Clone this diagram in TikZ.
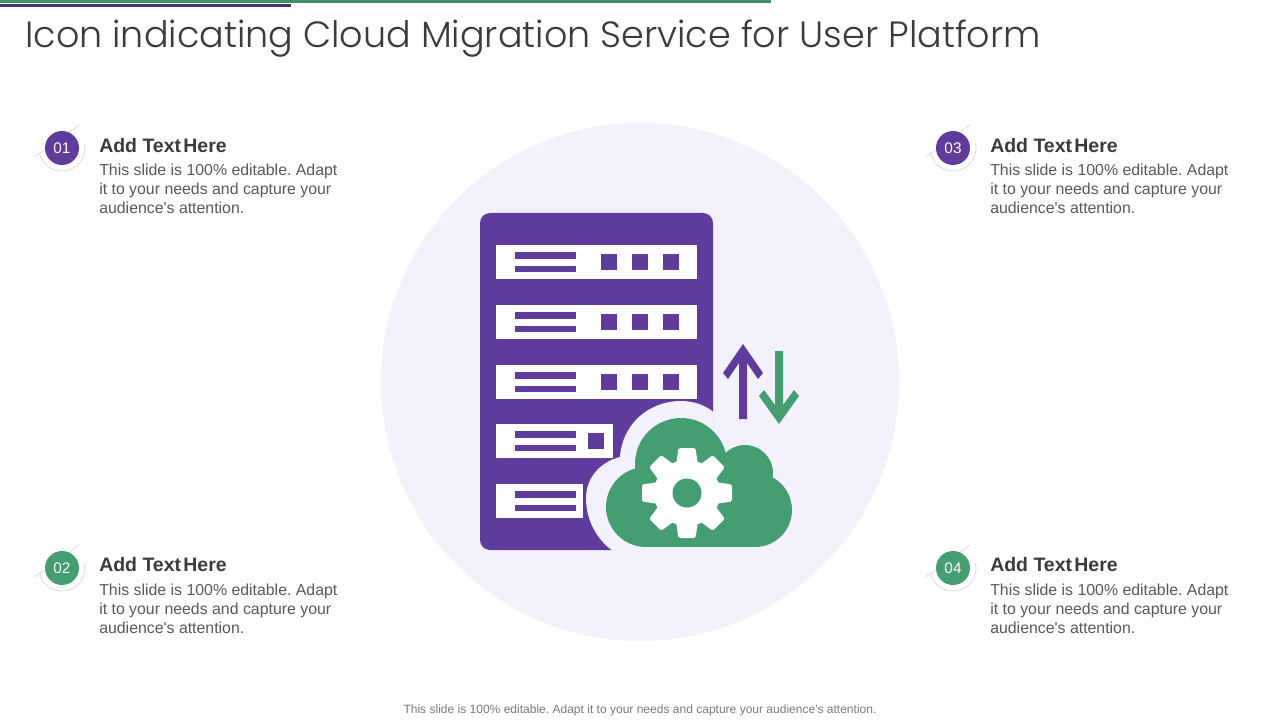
\documentclass[tikz,border=0pt]{standalone}
\usepackage{fontspec}
\setmainfont{Liberation Sans}
\newfontfamily\titlefont{Poppins Light}
\definecolor{pur}{HTML}{5F3C9C}
\definecolor{grn}{HTML}{459D72}
\definecolor{halo}{HTML}{F3F2FA}
\definecolor{ringc}{HTML}{E4E4E4}
\definecolor{headc}{HTML}{3B3B3B}
\definecolor{bodyc}{HTML}{595959}
\definecolor{footc}{HTML}{7A7A7A}
\tikzset{
  px/.style={x=0.75pt,y=-0.75pt},
  head/.style={anchor=base west,inner sep=0pt,font=\fontsize{14.6pt}{17pt}\selectfont\bfseries,text=headc},
  body/.style={anchor=north west,inner sep=0pt,align=left,font=\fontsize{11.9pt}{14.25pt}\selectfont,text=bodyc},
  badge/.style={circle,minimum size=25.5pt,inner sep=0pt,text=white,font=\fontsize{11.5pt}{14pt}\selectfont},
  bar/.style={fill=white},
  bits/.style={fill=pur}
}
\newcommand{\ringat}[3]{%
  \draw[ringc,line width=0.8pt] plot[smooth,domain=-12:168,samples=25] ([shift={(#1,#2)}]\x:23);
  \draw[ringc,line width=0.8pt] (#1-28,#2+9) -- (#1-17,#2+2);
  \draw[ringc,line width=0.8pt] (#1+17,#2-23) -- (#1+6,#2-15);
}
\newcommand{\rackbar}[3]{% y, right edge, squares
  \fill[bar] (496,#1) rectangle (#2,#1+34);
  \fill[bits] (515,#1+7) rectangle (576,#1+14);
  \fill[bits] (515,#1+21) rectangle (576,#1+27);
}
\newcommand{\headtxt}{Add Text\hspace{0.12em}Here}
\newcommand{\bodytxt}{This slide is 100\% editable. Adapt\\it to your needs and capture your\\audience\textquotesingle s attention.}
\frenchspacing
\begin{document}
\begin{tikzpicture}[px]
\useasboundingbox (0,0) rectangle (1280,720);
\fill[white] (0,0) rectangle (1280,720);
% top rules
\fill[grn!92!black] (0,0) rectangle (771,3);
\fill[pur!80!black] (0,4) rectangle (291,7);
\node[anchor=base west,inner sep=0pt,text=headc,font=\titlefont\fontsize{27.4pt}{34pt}\selectfont] (title) at (25,47.5) {Icon indicating Cloud Migration Service for User Platform};
% big disc
\fill[halo] (640,382) circle[radius=259];
% server
\fill[pur,rounded corners=7.5pt] (480,213) rectangle (713,550);
\foreach \y in {245,305,365}{
  \rackbar{\y}{697}{}
  \foreach \x in {601,632,663}{\fill[bits] (\x,\y+9) rectangle (\x+16,\y+25);}
}
\rackbar{424}{613}{}
\fill[bits] (588,433) rectangle (604,449);
\rackbar{484}{583}{}
% halo round the cloud
\fill[halo] (613,551) .. controls (597,540) and (586,520) .. (586,498) .. controls (586,478) and (600,462) .. (620,457) .. controls (622,425) and (648,401) .. (681,401) .. controls (693,401) and (705,405) .. (713.5,412) -- (713.5,551) -- cycle;
% cloud
\fill[grn] (681,464) circle[radius=46];
\fill[grn] (745,473) circle[radius=28];
\fill[grn] (755,510) circle[radius=37];
\fill[grn] (646,507) circle[radius=40];
\fill[grn] (646,480) rectangle (755,547);
\fill[grn] (681,462) rectangle (745,500);
% gear
\fill[white] (687,493) circle[radius=33];
\foreach \a in {0,45,...,315}{
  \fill[white,rounded corners=1.2pt,rotate around={\a:(687,493)}] (676,465) -- (678.5,448) -- (695.5,448) -- (698,465) -- cycle;
}
\fill[grn] (687,493) circle[radius=14.5];
% arrows
\fill[pur] (743,344) -- (763,373) -- (758,379) -- (747,363) -- (747,419) -- (739,419) -- (739,363) -- (728,379) -- (723,373) -- cycle;
\fill[grn] (779,424) -- (799,396) -- (794,390) -- (783,405) -- (783,351) -- (775,351) -- (775,405) -- (764,390) -- (759,396) -- cycle;
% badges
\ringat{62}{148}{}
\ringat{62}{568}{}
\ringat{953}{148}{}
\ringat{953}{568}{}
\node[badge,fill=pur] (b1) at (62,148) {01};
\node[badge,fill=grn] (b2) at (62,568) {02};
\node[badge,fill=pur] (b3) at (953,148) {03};
\node[badge,fill=grn] (b4) at (953,568) {04};
% texts
\node[head] (h1) at (99,152.6) {\headtxt};
\node[head] (h2) at (99,571.6) {\headtxt};
\node[head] (h3) at (990,152.6) {\headtxt};
\node[head] (h4) at (990,571.6) {\headtxt};
\node[body] (t1) at (99,164) {\bodytxt};
\node[body] (t2) at (99,584) {\bodytxt};
\node[body] (t3) at (990,164) {\bodytxt};
\node[body] (t4) at (990,584) {\bodytxt};
\node[anchor=base,inner sep=0pt,text=footc,font=\fontsize{9.02pt}{11pt}\selectfont] (foot) at (640,713) {This slide is 100\% editable. Adapt it to your needs and capture your audience\textquotesingle s attention.};
\end{tikzpicture}
\end{document}
